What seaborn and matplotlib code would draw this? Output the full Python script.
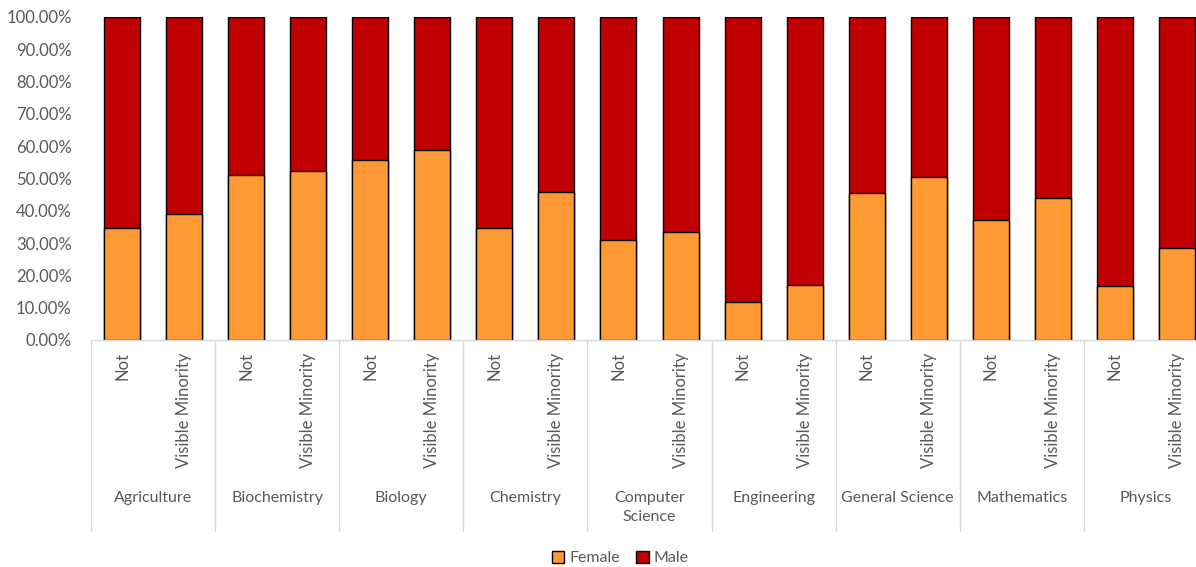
import numpy as np
import pandas as pd
import matplotlib
matplotlib.use("Agg")
import matplotlib.pyplot as plt
import matplotlib.transforms as mtransforms
from matplotlib.patches import Patch
import seaborn as sns

FIELDS = ["Agriculture", "Biochemistry", "Biology", "Chemistry", "Computer\nScience",
          "Engineering", "General Science", "Mathematics", "Physics"]
GROUPS = ["Not", "Visible Minority"]
# % female, per field: [Not, Visible Minority]
FEMALE = [34.7, 39.1, 51.1, 52.4, 55.8, 58.7, 34.7, 45.8, 31.0, 33.3,
          11.8, 17.1, 45.4, 50.5, 37.2, 43.8, 16.6, 28.6]
MALE = [65.3, 60.9, 48.9, 47.6, 44.2, 41.3, 65.3, 54.2, 69.0, 66.7,
        88.2, 82.9, 54.6, 49.5, 62.8, 56.2, 83.4, 71.4]

FEMALE_COLOR = "#FF9933"
MALE_COLOR = "#C00000"
TEXT_COLOR = "#595959"
LINE_COLOR = "#D9D9D9"

sns.set_theme(style="white")
plt.rcParams["font.family"] = ["Lato", "DejaVu Sans"]

keys = [f"{f}|{g}" for f in FIELDS for g in GROUPS]
df = pd.DataFrame({"key": keys, "female": FEMALE, "male": MALE})
df["total"] = df["female"] + df["male"]

W, H = 1196, 567
fig = plt.figure(figsize=(W / 100, H / 100), dpi=100)
ax = fig.add_axes([91 / W, (H - 340) / H, 1117 / W, 323.3 / H])

sns.barplot(data=df, x="key", y="total", color=MALE_COLOR, saturation=1, width=0.58,
            edgecolor="black", linewidth=1, ax=ax, order=keys)
sns.barplot(data=df, x="key", y="female", color=FEMALE_COLOR, saturation=1, width=0.58,
            edgecolor="black", linewidth=1, ax=ax, order=keys)

ax.set_xlim(-0.5, len(keys) - 0.5)
ax.set_ylim(0, 100)
ax.set_yticks(np.arange(0, 101, 10))
ax.set_yticklabels([f"{v:.2f}%" for v in range(0, 101, 10)], fontsize=12, color=TEXT_COLOR)
ax.set_xticks(range(len(keys)))
ax.set_xticklabels([g for f in FIELDS for g in GROUPS], rotation=90, va="top",
                   fontsize=12, color=TEXT_COLOR)
ax.tick_params(axis="x", length=0, pad=9)
ax.tick_params(axis="y", length=0, pad=14)
ax.set_xlabel("")
ax.set_ylabel("")
for s in ["top", "right", "left"]:
    ax.spines[s].set_visible(False)
ax.spines["bottom"].set_color(LINE_COLOR)
ax.spines["bottom"].set_linewidth(1)

trans = mtransforms.blended_transform_factory(ax.transData, ax.transAxes)
for i, field in enumerate(FIELDS):
    ax.text(2 * i + 0.5, -0.468, field, transform=trans, ha="center", va="top",
            fontsize=11.5, color=TEXT_COLOR, linespacing=1.4)
for i in range(len(FIELDS) + 1):
    ax.plot([2 * i - 0.5, 2 * i - 0.5], [0, -0.59], transform=trans, color=LINE_COLOR,
            lw=1, clip_on=False)

handles = [Patch(facecolor=FEMALE_COLOR, edgecolor="black", label="Female"),
           Patch(facecolor=MALE_COLOR, edgecolor="black", label="Male")]
fig.legend(handles=handles, loc="center", ncol=2, frameon=False, fontsize=11.5,
           bbox_to_anchor=(620 / W, 9 / H), handlelength=0.8, handleheight=0.8,
           handletextpad=0.3, columnspacing=1.0, labelcolor=TEXT_COLOR)

fig.savefig("out.png", dpi=100)
